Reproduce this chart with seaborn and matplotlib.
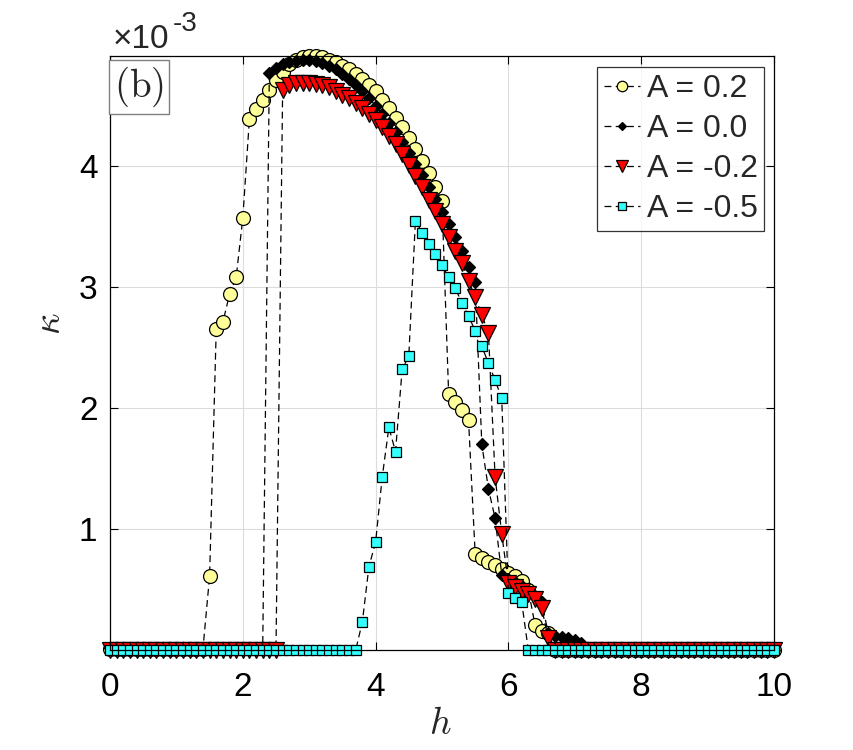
import numpy as np
import pandas as pd
import matplotlib
matplotlib.use("Agg")
import matplotlib.pyplot as plt
import seaborn as sns

# ---------------- data (kappa in units of 1e-3) ----------------
h = np.round(np.arange(0, 101) * 0.1, 1)

k_A02 = ([0.01] * 15 +
         [0.61, 2.65, 2.71, 2.94, 3.08, 3.57, 4.39, 4.47, 4.55, 4.63,
          4.71, 4.78, 4.84, 4.88, 4.90, 4.91, 4.91, 4.90, 4.88, 4.86,
          4.83, 4.80, 4.76, 4.72, 4.67, 4.62, 4.55, 4.48, 4.40, 4.32,
          4.23, 4.14, 4.04, 3.94, 3.83, 3.71, 2.12, 2.05, 1.98, 1.90,
          0.79, 0.76, 0.73, 0.70, 0.67, 0.64, 0.61, 0.57, 0.50, 0.21,
          0.16, 0.14] +
         [0.0] * 34)

k_A00 = ([0.02] * 24 +
         [4.77, 4.81, 4.84, 4.86, 4.87, 4.88, 4.88, 4.87, 4.85, 4.83,
          4.80, 4.76, 4.72, 4.67, 4.62, 4.56, 4.50, 4.43, 4.36, 4.28,
          4.20, 4.11, 4.02, 3.93, 3.83, 3.73, 3.62, 3.52, 3.41, 3.30,
          3.17, 3.04, 1.70, 1.33, 1.09, 0.62, 0.59, 0.56, 0.53, 0.49,
          0.45, 0.40, 0.14, 0.12, 0.11, 0.10, 0.08, 0.06] +
         [0.0] * 29)

k_Am02 = ([0.0] * 26 +
          [4.63, 4.67, 4.69, 4.69, 4.69, 4.68, 4.67, 4.65, 4.62, 4.59,
           4.56, 4.52, 4.48, 4.43, 4.38, 4.32, 4.25, 4.18, 4.10, 4.01,
           3.92, 3.83, 3.72, 3.63, 3.52, 3.41, 3.30, 3.20, 3.05, 2.92,
           2.77, 2.62, 1.43, 0.96, 0.55, 0.52, 0.49, 0.46, 0.42, 0.35,
           0.10] +
          [0.0] * 34)

k_Am05 = ([0.0] * 38 +
          [0.23, 0.69, 0.89, 1.43, 1.84, 1.64, 2.32, 2.43, 3.55, 3.45,
           3.36, 3.27, 3.18, 3.08, 2.99, 2.87, 2.76, 2.64, 2.51, 2.37,
           2.23, 2.08, 0.47, 0.43, 0.40] +
          [0.0] * 38)

labels = ["A = 0.2", "A = 0.0", "A = -0.2", "A = -0.5"]
xticks = [0, 2, 4, 6, 8, 10]
yticks = [1, 2, 3, 4]

# ---------------- styling ----------------
sns.set_theme(style="white")
plt.rcParams['font.family'] = ['Liberation Sans', 'DejaVu Sans']
plt.rcParams['mathtext.fontset'] = 'cm'

fig = plt.figure(figsize=(8.54, 7.5), dpi=100)
ax = fig.add_axes([0.1288, 0.1333, 0.7775, 0.792])

styles = [
    dict(marker='o', markersize=10, markerfacecolor='#FFFF99'),
    dict(marker='D', markersize=5.8, markerfacecolor='black'),
    dict(marker='v', markersize=11, markerfacecolor='#FF0000'),
    dict(marker='s', markersize=7.8, markerfacecolor='#33FFFF'),
]
series = [k_A02, k_A00, k_Am02, k_Am05]

for ys, lab, st in zip(series, labels, styles):
    df = pd.DataFrame({"h": h, "k": ys})
    sns.lineplot(data=df, x="h", y="k", ax=ax, sort=False, estimator=None,
                 color='black', linestyle=(0, (5.5, 3.5)), linewidth=0.9,
                 markeredgecolor='black', markeredgewidth=0.9,
                 label=lab, clip_on=False, **st)

ax.set_xlim(0, 10)
ax.set_ylim(0, 4.91)
ax.set_xticks(xticks)
ax.set_yticks(yticks)
ax.set_xticklabels([str(t) for t in xticks], fontsize=24)
ax.set_yticklabels([str(t) for t in yticks], fontsize=24)
ax.grid(True, color='#DCDCDC', linewidth=0.8)
ax.set_axisbelow(True)
for s in ax.spines.values():
    s.set_color('black')
    s.set_linewidth(0.9)
ax.tick_params(axis='x', pad=15.5)
ax.tick_params(axis='y', pad=9)
ax.tick_params(direction='in', length=6, width=0.8, top=True, right=True,
               bottom=True, left=True, colors='black')

ax.set_xlabel(r'$h$', fontsize=27)
ax.xaxis.set_label_coords(0.497, -0.095)
ax.set_ylabel(r'$\kappa$', fontsize=27)
ax.yaxis.set_label_coords(-0.064, 0.55)

# exponent label
fig.text(113 / 854, 1 - 48 / 750, '×10', fontsize=24, ha='left', va='baseline')
fig.text(173 / 854, 1 - 31 / 750, '-3', fontsize=20, ha='left', va='baseline')

# panel label
ax.text(0.006, 0.985, r'$\mathrm{(b)}$', transform=ax.transAxes, fontsize=28,
        ha='left', va='top',
        bbox=dict(boxstyle='square,pad=0.12', facecolor='white',
                  edgecolor='#808080', linewidth=1.0))

leg = ax.legend(loc='upper right', bbox_to_anchor=(0.985, 0.981), fontsize=23,
                frameon=True, fancybox=False, edgecolor='black',
                handlelength=1.15, handletextpad=0.2, borderpad=0.2,
                labelspacing=0.32, borderaxespad=0.0, markerscale=0.75)
leg.get_frame().set_linewidth(0.9)

fig.savefig('out.png', dpi=100, facecolor='white')
